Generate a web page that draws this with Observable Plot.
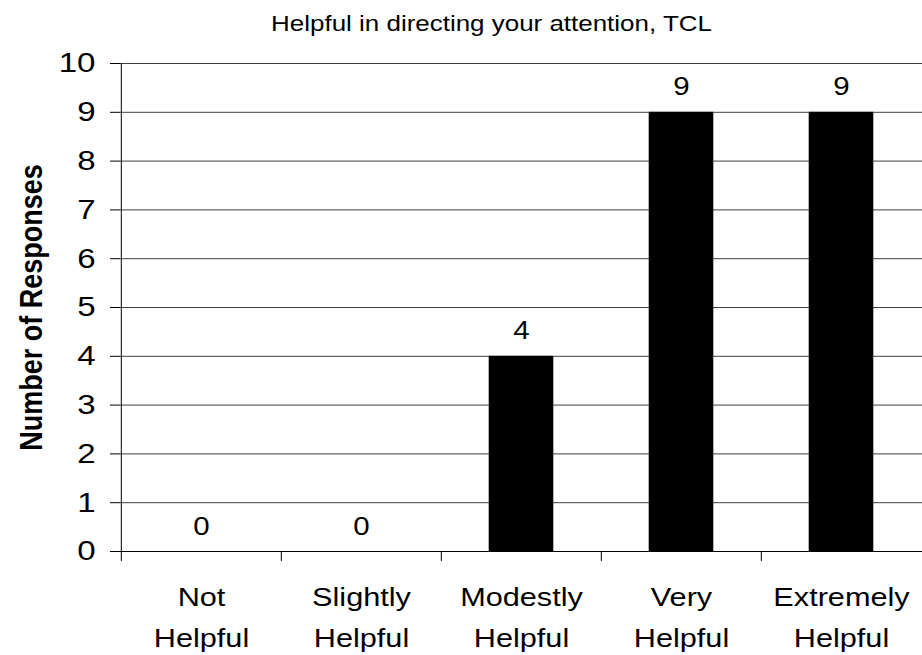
<!DOCTYPE html>
<html>
<head>
<meta charset="utf-8">
<script src="https://cdn.jsdelivr.net/npm/d3@7"></script>
<script src="https://cdn.jsdelivr.net/npm/@observablehq/plot@0.6"></script>
<style>
  html, body { margin: 0; padding: 0; background: #fff; }
  svg { display: block; }
</style>
</head>
<body>
<div id="chart"></div>
<script>
const title = "Helpful in directing your attention, TCL";
const yLabel = "Number of Responses";
const categories = ["Not\nHelpful", "Slightly\nHelpful", "Modestly\nHelpful", "Very\nHelpful", "Extremely\nHelpful"];
const counts = [0, 0, 4, 9, 9];
const yTicks = [0, 1, 2, 3, 4, 5, 6, 7, 8, 9, 10];

const data = categories.map((c, i) => ({category: c, count: counts[i]}));

const W = 922, H = 655;
const mL = 120, mR = 0, mT = 63, mB = 104;
const band = (W - mL - mR) / categories.length;
const barW = 65;
const inset = (band - barW) / 2;
const font = "'Liberation Sans', Arial, sans-serif";
const stretch = 1.18;

const chart = Plot.plot({
  width: W,
  height: H,
  marginLeft: mL,
  marginRight: mR,
  marginTop: mT,
  marginBottom: mB,
  style: {fontFamily: font, color: "#000", background: "#fff"},
  x: {type: "band", domain: categories, padding: 0},
  y: {domain: [0, 10]},
  marks: [
    Plot.ruleY(yTicks, {stroke: "#000", strokeWidth: 1, strokeOpacity: 0.75}),
    Plot.ruleY([0], {stroke: "#000", strokeWidth: 1}),
    Plot.barY(data, {x: "category", y: "count", fill: "#000", insetLeft: inset, insetRight: inset}),
    Plot.text(data, {x: "category", y: "count", text: d => String(d.count), dy: -25, fontSize: 25, fill: "#000"}),
    Plot.axisY({ticks: yTicks, tickSize: 10, tickPadding: 15, fontSize: 28, label: null, stroke: "#000"}),
    Plot.ruleX([categories[0]], {x: d => d, dx: -band / 2, y1: 0, y2: 10, stroke: "#000"}),
    Plot.axisX({tickSize: 10, tickFormat: () => "", dx: -band / 2, label: null, stroke: "#000"}),
    Plot.axisX({tickSize: 0, tickPadding: 26, fontSize: 26, lineHeight: 1.56, label: null}),
    Plot.text([yLabel], {frameAnchor: "left", textAnchor: "middle", lineAnchor: "middle", dx: -89, rotate: -90, fontSize: 27, fontWeight: "bold", fill: "#000"}),
    Plot.text([title], {frameAnchor: "top", textAnchor: "middle", lineAnchor: "middle", dy: -40, dx: -30, fontSize: 22, fill: "#000"})
  ]
});

// The reference's lettering is drawn horizontally wider than plain Arial:
// widen each text about its own anchor point.
chart.querySelectorAll("text").forEach(t => {
  const tr = t.getAttribute("transform");
  if (tr && /^translate\([^)]*\)/.test(tr)) {
    t.setAttribute("transform", tr.replace(/^translate\([^)]*\)/, m => `${m} scale(${stretch},1)`));
  } else if (!tr) {
    const x = +(t.getAttribute("x") || 0), y = +(t.getAttribute("y") || 0);
    t.setAttribute("transform", `translate(${x},${y}) scale(${stretch},1) translate(${-x},${-y})`);
  }
});

document.getElementById("chart").append(chart);
</script>
</body>
</html>
